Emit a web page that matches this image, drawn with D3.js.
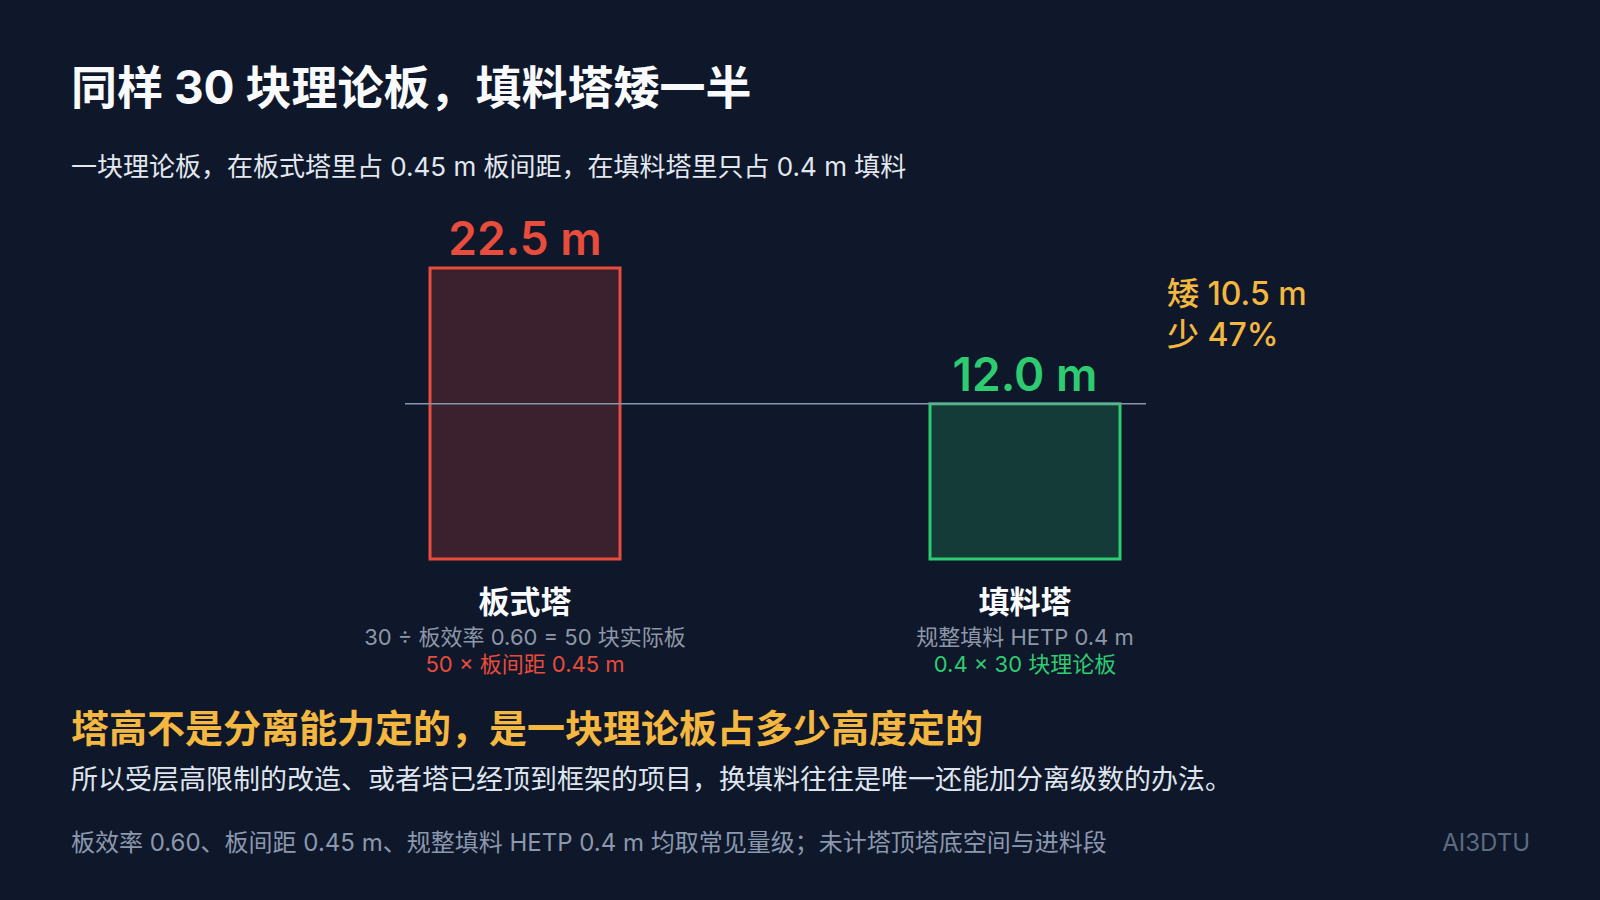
<!DOCTYPE html>
<html>
<head>
<meta charset="utf-8">
<script src="https://cdn.jsdelivr.net/npm/d3@7"></script>
<style>
  html, body { margin: 0; padding: 0; background: #0f172a; }
  svg { display: block; }
  text { font-family: "Inter", "Noto Sans CJK SC", sans-serif; }
</style>
</head>
<body>
<svg id="chart" width="1600" height="900"></svg>
<script>
// ---- data ----
const categories = ["板式塔", "填料塔"];
const heights = [22.5, 12.0];
const valueLabels = ["22.5 m", "12.0 m"];
const detailLines1 = ["30 ÷ 板效率 0.60 = 50 块实际板", "规整填料 HETP 0.4 m"];
const detailLines2 = ["50 × 板间距 0.45 m", "0.4 × 30 块理论板"];
const seriesColors = ["#e74c3c", "#2ecc71"];
const referenceValue = 12.0;
const diffLines = ["矮 10.5 m", "少 47%"];
const titleText = "同样 30 块理论板，填料塔矮一半";
const subtitleText = "一块理论板，在板式塔里占 0.45 m 板间距，在填料塔里只占 0.4 m 填料";
const headlineText = "塔高不是分离能力定的，是一块理论板占多少高度定的";
const bodyText = "所以受层高限制的改造、或者塔已经顶到框架的项目，换填料往往是唯一还能加分离级数的办法。";
const footnoteText = "板效率 0.60、板间距 0.45 m、规整填料 HETP 0.4 m 均取常见量级；未计塔顶塔底空间与进料段";
const brandText = "AI3DTU";

// ---- layout ----
const svg = d3.select("#chart");
svg.append("rect").attr("width", 1600).attr("height", 900).attr("fill", "#0f172a");

const x = d3.scaleBand().domain(categories).range([275, 1275]).paddingInner(0.62).paddingOuter(0.31);
const y = d3.scaleLinear().domain([0, 22.5]).range([559, 268]);

// title & subtitle
svg.append("text").attr("x", 71).attr("y", 104).attr("fill", "#f8fafc")
  .attr("font-size", 46).attr("font-weight", 700).text(titleText);
svg.append("text").attr("x", 71).attr("y", 176).attr("fill", "#e2e8f0")
  .attr("font-size", 26).text(subtitleText);

const data = categories.map((c, i) => ({
  cat: c, h: heights[i], label: valueLabels[i], color: seriesColors[i],
  d1: detailLines1[i], d2: detailLines2[i]
}));

// bars
svg.selectAll("rect.bar").data(data).join("rect").attr("class", "bar")
  .attr("x", d => x(d.cat)).attr("width", x.bandwidth())
  .attr("y", d => y(d.h)).attr("height", d => y(0) - y(d.h))
  .attr("fill", d => d.color).attr("fill-opacity", 0.2)
  .attr("stroke", d => d.color).attr("stroke-width", 3);

// reference line at packed height
const refX0 = x(categories[0]) - 25;
const refX1 = x(categories[1]) + x.bandwidth() + 26;
svg.append("line").attr("x1", refX0).attr("x2", refX1)
  .attr("y1", y(referenceValue)).attr("y2", y(referenceValue))
  .attr("stroke", "#8595ad").attr("stroke-width", 1.5);

// value labels
svg.selectAll("text.val").data(data).join("text").attr("class", "val")
  .attr("x", d => x(d.cat) + x.bandwidth() / 2).attr("y", d => y(d.h) - 13)
  .attr("text-anchor", "middle").attr("fill", d => d.color)
  .attr("font-size", 46).attr("font-weight", 600).text(d => d.label);

// category labels
svg.selectAll("text.cat").data(data).join("text").attr("class", "cat")
  .attr("x", d => x(d.cat) + x.bandwidth() / 2).attr("y", 613)
  .attr("text-anchor", "middle").attr("fill", "#f8fafc")
  .attr("font-size", 31).attr("font-weight", 700).text(d => d.cat);
svg.selectAll("text.d1").data(data).join("text").attr("class", "d1")
  .attr("x", d => x(d.cat) + x.bandwidth() / 2).attr("y", 645)
  .attr("text-anchor", "middle").attr("fill", "#8d97a8")
  .attr("font-size", 22).text(d => d.d1);
svg.selectAll("text.d2").data(data).join("text").attr("class", "d2")
  .attr("x", d => x(d.cat) + x.bandwidth() / 2).attr("y", 672)
  .attr("text-anchor", "middle").attr("fill", d => d.color)
  .attr("font-size", 22).text(d => d.d2);

// difference annotation
const annX = x(categories[1]) + x.bandwidth() + 47;
svg.selectAll("text.diff").data(diffLines).join("text").attr("class", "diff")
  .attr("x", annX).attr("y", (d, i) => 305 + i * 41)
  .attr("fill", "#f4b740").attr("font-size", 32).attr("font-weight", 500).text(d => d);

// takeaway
svg.append("text").attr("x", 71).attr("y", 742).attr("fill", "#f4b740")
  .attr("font-size", 38).attr("font-weight", 700).text(headlineText);
svg.append("text").attr("x", 71).attr("y", 789).attr("fill", "#dfe5ee")
  .attr("font-size", 27).text(bodyText);

// footnote
svg.append("text").attr("x", 71).attr("y", 851).attr("fill", "#8b98ad")
  .attr("font-size", 24).text(footnoteText);
svg.append("text").attr("x", 1530).attr("y", 851).attr("text-anchor", "end")
  .attr("fill", "#5d6b80").attr("font-size", 24).text(brandText);
</script>
</body>
</html>
